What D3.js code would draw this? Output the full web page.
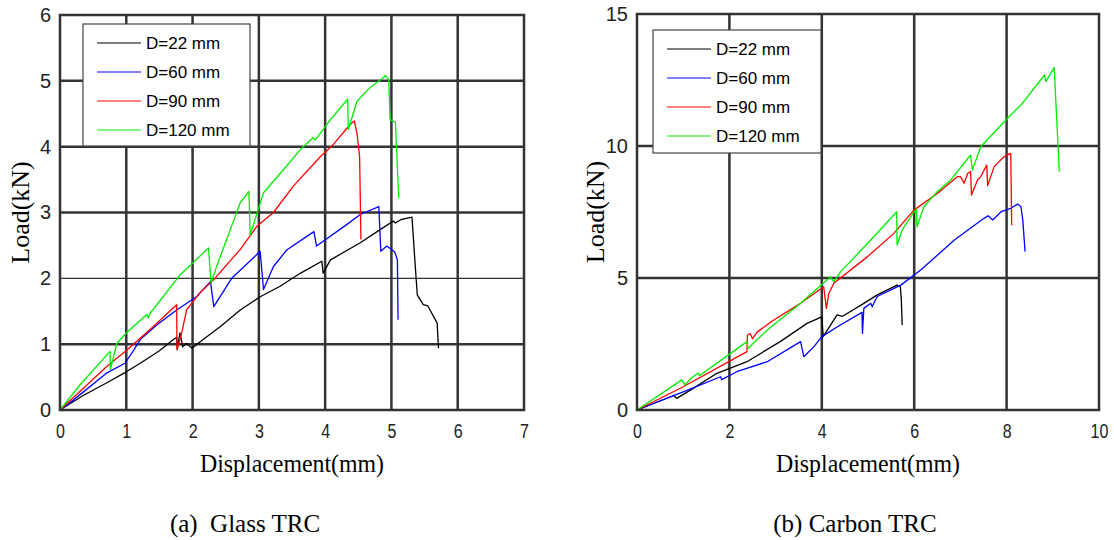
<html lang="en">
<head>
  <meta http-equiv="Content-Type" content="text/html; charset=utf-8" />
  <script src="https://d3js.org/d3.v7.min.js"></script>
  <style>
    body { margin: 0; background: #fff; }
  </style>
</head>
<body>
  <div id="divId"></div>
  <script>
    'use strict';
    const width = 1114;
    const height = 540;

    const seriesNames = ["D=22 mm", "D=60 mm", "D=90 mm", "D=120 mm"];
    const seriesColors = ["#000000", "#0000ff", "#ff0000", "#00ee00"];

    // (a) Glass TRC, [displacement mm, load kN]
    const glass22 = [[0,0],[0.35,0.22],[0.7,0.41],[1.0,0.58],[1.21,0.71],[1.5,0.9],[1.71,1.07],[1.76,1.1],[1.77,0.94],[1.81,1.17],[1.85,0.96],[1.91,1.01],[1.99,0.94],[2.16,1.07],[2.42,1.27],[2.72,1.52],[3.02,1.72],[3.32,1.88],[3.63,2.08],[3.95,2.26],[3.97,2.08],[4.08,2.28],[4.53,2.54],[4.83,2.74],[5.03,2.87],[5.06,2.84],[5.14,2.89],[5.31,2.93],[5.36,2.18],[5.39,1.75],[5.48,1.6],[5.55,1.58],[5.69,1.32],[5.71,0.94]];
    const glass60 = [[0.59,0],[0,0],[0.2,0.15],[0.7,0.56],[0.98,0.71],[1.1,0.89],[1.21,1.07],[1.46,1.29],[1.76,1.52],[2.06,1.72],[2.27,1.95],[2.32,1.57],[2.59,2.0],[3.02,2.41],[3.07,1.83],[3.22,2.18],[3.42,2.43],[3.83,2.71],[3.87,2.49],[4.33,2.82],[4.53,2.97],[4.81,3.09],[4.84,2.41],[4.93,2.49],[5.05,2.4],[5.09,2.28],[5.1,1.37]];
    const glass90 = [[0,0],[0.705,0.66],[1.01,0.91],[1.4,1.26],[1.76,1.6],[1.765,0.91],[1.84,1.19],[1.91,1.52],[2.11,1.78],[2.32,1.98],[2.72,2.44],[2.97,2.79],[3.22,3.0],[3.52,3.4],[3.93,3.85],[4.12,4.03],[4.38,4.34],[4.44,4.39],[4.48,4.21],[4.52,3.85],[4.54,2.59]];
    const glass120 = [[0,0],[0.3,0.38],[0.755,0.89],[0.76,0.61],[0.856,1.01],[1.0,1.17],[1.31,1.45],[1.33,1.4],[1.36,1.47],[1.81,2.05],[2.24,2.46],[2.28,1.93],[2.37,2.2],[2.72,3.15],[2.85,3.32],[2.87,2.66],[3.07,3.3],[3.37,3.65],[3.63,3.96],[3.82,4.14],[3.85,4.1],[4.08,4.41],[4.34,4.72],[4.35,4.26],[4.48,4.69],[4.68,4.9],[4.88,5.05],[4.91,5.08],[4.96,5.02],[4.98,4.41],[5.06,4.37],[5.11,3.22]];

    // (b) Carbon TRC
    const carbon22 = [[0,0],[0.8,0.55],[0.86,0.44],[1.2,0.8],[1.73,1.39],[2.38,1.83],[3.1,2.59],[3.68,3.28],[4.0,3.53],[4.03,2.78],[4.33,3.6],[4.45,3.55],[4.91,4.04],[5.2,4.36],[5.63,4.73],[5.7,4.67],[5.72,4.23],[5.74,3.22]];
    const carbon60 = [[0,0],[1.0,0.69],[1.81,1.26],[1.83,1.15],[2.16,1.45],[2.82,1.83],[3.54,2.59],[3.61,2.02],[3.83,2.4],[4.0,2.78],[4.4,3.22],[4.87,3.7],[4.88,2.9],[4.91,3.85],[5.06,4.04],[5.09,3.91],[5.2,4.3],[5.71,4.73],[6.14,5.3],[6.87,6.44],[7.51,7.26],[7.6,7.36],[7.7,7.2],[7.88,7.51],[8.09,7.64],[8.24,7.8],[8.31,7.7],[8.35,7.2],[8.4,6.0]];
    const carbon90 = [[0,0],[1.0,0.88],[2.38,2.21],[2.39,2.84],[2.45,2.9],[2.5,2.7],[2.6,2.95],[2.96,3.41],[3.54,4.04],[4.04,4.67],[4.1,3.85],[4.15,4.4],[4.26,4.8],[4.99,5.81],[5.56,6.69],[6.0,7.58],[6.5,8.2],[6.94,8.84],[7.0,8.84],[7.08,8.59],[7.16,8.97],[7.22,9.03],[7.24,8.14],[7.37,8.71],[7.44,8.84],[7.57,9.28],[7.59,8.5],[7.73,9.22],[7.95,9.6],[8.09,9.72],[8.11,7.0]];
    const carbon120 = [[0,0],[0.97,1.14],[1.04,0.95],[1.2,1.25],[1.33,1.4],[1.35,1.3],[2.38,2.59],[2.4,2.33],[2.82,3.03],[3.54,4.04],[4.19,5.05],[4.26,4.86],[4.41,5.24],[5.13,6.57],[5.62,7.51],[5.63,6.25],[5.74,6.82],[6.0,7.51],[6.05,7.6],[6.06,6.94],[6.21,7.7],[6.5,8.27],[6.79,8.71],[7.22,9.66],[7.26,9.09],[7.44,9.97],[8.02,11.05],[8.31,11.55],[8.82,12.69],[8.85,12.44],[9.03,12.98],[9.14,9.03]];

    const glassXTicks = [0, 1, 2, 3, 4, 5, 6, 7];
    const glassYTicks = [0, 1, 2, 3, 4, 5, 6];
    const carbonXTicks = [0, 2, 4, 6, 8, 10];
    const carbonYTicks = [0, 5, 10, 15];

    const xTitle = "Displacement(mm)";
    const yTitle = "Load(kN)";

    const svg = d3.select("#divId")
      .append("svg")
      .attr("width", width)
      .attr("height", height);

    const gridColor = "#333";
    const sansFont = "Arial, 'Liberation Sans', sans-serif";
    const serifFont = "'Times New Roman', 'Liberation Serif', serif";

    const drawPanel = (cfg) => {
      const x = d3.scaleLinear().domain(cfg.xDomain).range([cfg.left, cfg.right]);
      const y = d3.scaleLinear().domain(cfg.yDomain).range([cfg.bottom, cfg.top]);
      const g = svg.append("g");

      // grid
      g.selectAll(".vg").data(cfg.xTicks.slice(1, -1)).join("line")
        .attr("x1", d => x(d)).attr("x2", d => x(d))
        .attr("y1", cfg.top).attr("y2", cfg.bottom)
        .attr("stroke", gridColor).attr("stroke-width", 2.5);
      g.selectAll(".hg").data(cfg.yTicks.slice(1, -1)).join("line")
        .attr("y1", d => y(d)).attr("y2", d => y(d))
        .attr("x1", cfg.left).attr("x2", cfg.right)
        .attr("stroke", gridColor)
        .attr("stroke-width", d => cfg.thinY.includes(d) ? 1.3 : 2.5);

      // curves
      const line = d3.line().x(d => x(d[0])).y(d => y(d[1]));
      cfg.series.forEach((s, i) => {
        g.append("path")
          .attr("d", line(s))
          .attr("fill", "none")
          .attr("stroke", seriesColors[i])
          .attr("stroke-width", 1.3)
          .attr("stroke-linejoin", "round");
      });

      // frame
      g.append("rect")
        .attr("x", cfg.left).attr("y", cfg.top)
        .attr("width", cfg.right - cfg.left).attr("height", cfg.bottom - cfg.top)
        .attr("fill", "none").attr("stroke", gridColor).attr("stroke-width", 2.5);

      // axes (labels only)
      const xAxis = g.append("g")
        .attr("transform", `translate(0, ${cfg.bottom + 14})`)
        .call(d3.axisBottom(x).tickValues(cfg.xTicks).tickSize(0).tickPadding(0)
          .tickFormat(d3.format("d")));
      xAxis.select(".domain").remove();
      xAxis.selectAll("text")
        .attr("dy", "0.71em")
        .attr("transform", "scale(0.8, 1)")
        .style("font-family", sansFont)
        .style("font-size", "20px")
        .style("fill", "#222");

      const yAxis = g.append("g")
        .attr("transform", `translate(${cfg.left - 9}, 0)`)
        .call(d3.axisLeft(y).tickValues(cfg.yTicks).tickSize(0).tickPadding(0)
          .tickFormat(d3.format("d")));
      yAxis.select(".domain").remove();
      yAxis.selectAll("text")
        .style("font-family", sansFont)
        .style("font-size", "20px")
        .style("fill", "#222");

      // titles
      const cx = (cfg.left + cfg.right) / 2;
      g.append("text")
        .attr("x", cx).attr("y", cfg.bottom + 62)
        .attr("text-anchor", "middle")
        .attr("textLength", 184).attr("lengthAdjust", "spacingAndGlyphs")
        .style("font-family", serifFont).style("font-size", "26px")
        .text(xTitle);
      g.append("text")
        .attr("transform", `translate(${cfg.yTitleX}, ${(cfg.top + cfg.bottom) / 2}) rotate(-90)`)
        .attr("text-anchor", "middle")
        .style("font-family", serifFont).style("font-size", "26px")
        .text(yTitle);

      // legend
      const lg = g.append("g");
      lg.append("rect")
        .attr("x", cfg.legend.x).attr("y", cfg.legend.y)
        .attr("width", cfg.legend.w).attr("height", cfg.legend.h)
        .attr("fill", "#fff").attr("stroke", "#444").attr("stroke-width", 1.2);
      seriesNames.forEach((name, i) => {
        const ry = cfg.legend.y + 19 + i * 29;
        lg.append("line")
          .attr("x1", cfg.legend.x + 14).attr("x2", cfg.legend.x + 58)
          .attr("y1", ry).attr("y2", ry)
          .attr("stroke", seriesColors[i]).attr("stroke-width", 1.2);
        lg.append("text")
          .attr("x", cfg.legend.x + 63).attr("y", ry + 6)
          .style("font-family", sansFont).style("font-size", "17px")
          .text(name);
      });

      // caption
      g.append("text")
        .attr("x", cfg.caption.x).attr("y", 532)
        .attr("text-anchor", "middle")
        .attr("xml:space", "preserve")
        .style("font-family", serifFont).style("font-size", "25px")
        .text(cfg.caption.text);
    };

    drawPanel({
      left: 60, right: 524, top: 15, bottom: 410,
      xDomain: [0, 7], yDomain: [0, 6],
      xTicks: glassXTicks, yTicks: glassYTicks, thinY: [2],
      series: [glass22, glass60, glass90, glass120],
      yTitleX: 29,
      legend: {x: 83, y: 24, w: 167, h: 122},
      caption: {x: 245, text: "(a)  Glass TRC"}
    });

    drawPanel({
      left: 637, right: 1099, top: 14, bottom: 410,
      xDomain: [0, 10], yDomain: [0, 15],
      xTicks: carbonXTicks, yTicks: carbonYTicks, thinY: [],
      series: [carbon22, carbon60, carbon90, carbon120],
      yTitleX: 604,
      legend: {x: 653, y: 30, w: 168, h: 123},
      caption: {x: 855, text: "(b) Carbon TRC"}
    });
  </script>
</body>
</html>
